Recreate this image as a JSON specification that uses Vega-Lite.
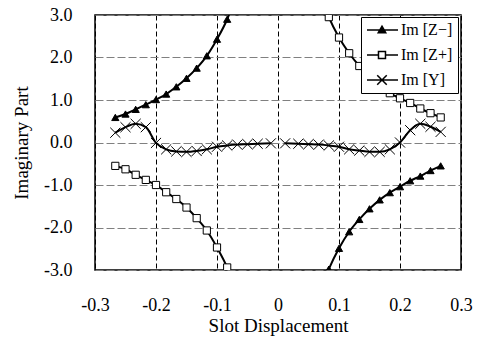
{
  "$schema": "https://vega.github.io/schema/vega-lite/v6.json",
  "width": 366,
  "height": 255,
  "autosize": {"type": "none"},
  "padding": {"left": 95, "top": 15, "right": 16, "bottom": 68},
  "background": "white",
  "config": {
    "font": "Liberation Serif",
    "view": {"stroke": "black", "strokeWidth": 1.5},
    "axis": {
      "labelFont": "Liberation Serif",
      "titleFont": "Liberation Serif",
      "labelFontSize": 18,
      "titleFontSize": 19,
      "titleFontWeight": "normal",
      "labelColor": "black",
      "titleColor": "black",
      "labelFlush": false,
      "labelOverlap": false,
      "domain": false,
      "ticks": false,
      "tickSize": 0,
      "grid": true,
      "gridWidth": 1
    }
  },
  "data": {
    "values": [
      {"series": "Im [Z−]", "branch": "zm_l", "x": -0.2667, "y": 0.59},
      {"series": "Im [Z−]", "branch": "zm_l", "x": -0.25, "y": 0.67},
      {"series": "Im [Z−]", "branch": "zm_l", "x": -0.2333, "y": 0.78},
      {"series": "Im [Z−]", "branch": "zm_l", "x": -0.2167, "y": 0.89},
      {"series": "Im [Z−]", "branch": "zm_l", "x": -0.2, "y": 1.01},
      {"series": "Im [Z−]", "branch": "zm_l", "x": -0.1833, "y": 1.14},
      {"series": "Im [Z−]", "branch": "zm_l", "x": -0.1667, "y": 1.31},
      {"series": "Im [Z−]", "branch": "zm_l", "x": -0.15, "y": 1.51},
      {"series": "Im [Z−]", "branch": "zm_l", "x": -0.1333, "y": 1.75},
      {"series": "Im [Z−]", "branch": "zm_l", "x": -0.1167, "y": 2.04},
      {"series": "Im [Z−]", "branch": "zm_l", "x": -0.1, "y": 2.43},
      {"series": "Im [Z−]", "branch": "zm_l", "x": -0.0833, "y": 2.9},
      {"series": "Im [Z−]", "branch": "zm_l", "x": -0.0667, "y": 3.55},
      {"series": "Im [Z−]", "branch": "zm_r", "x": 0.0667, "y": -3.6},
      {"series": "Im [Z−]", "branch": "zm_r", "x": 0.0833, "y": -2.98},
      {"series": "Im [Z−]", "branch": "zm_r", "x": 0.1, "y": -2.49},
      {"series": "Im [Z−]", "branch": "zm_r", "x": 0.1167, "y": -2.1},
      {"series": "Im [Z−]", "branch": "zm_r", "x": 0.1333, "y": -1.81},
      {"series": "Im [Z−]", "branch": "zm_r", "x": 0.15, "y": -1.56},
      {"series": "Im [Z−]", "branch": "zm_r", "x": 0.1667, "y": -1.35},
      {"series": "Im [Z−]", "branch": "zm_r", "x": 0.1833, "y": -1.18},
      {"series": "Im [Z−]", "branch": "zm_r", "x": 0.2, "y": -1.04},
      {"series": "Im [Z−]", "branch": "zm_r", "x": 0.2167, "y": -0.9},
      {"series": "Im [Z−]", "branch": "zm_r", "x": 0.2333, "y": -0.79},
      {"series": "Im [Z−]", "branch": "zm_r", "x": 0.25, "y": -0.66},
      {"series": "Im [Z−]", "branch": "zm_r", "x": 0.2667, "y": -0.55},
      {"series": "Im [Z+]", "branch": "zp_l", "x": -0.2667, "y": -0.55},
      {"series": "Im [Z+]", "branch": "zp_l", "x": -0.25, "y": -0.63},
      {"series": "Im [Z+]", "branch": "zp_l", "x": -0.2333, "y": -0.76},
      {"series": "Im [Z+]", "branch": "zp_l", "x": -0.2167, "y": -0.88},
      {"series": "Im [Z+]", "branch": "zp_l", "x": -0.2, "y": -1.0},
      {"series": "Im [Z+]", "branch": "zp_l", "x": -0.1833, "y": -1.17},
      {"series": "Im [Z+]", "branch": "zp_l", "x": -0.1667, "y": -1.33},
      {"series": "Im [Z+]", "branch": "zp_l", "x": -0.15, "y": -1.53},
      {"series": "Im [Z+]", "branch": "zp_l", "x": -0.1333, "y": -1.78},
      {"series": "Im [Z+]", "branch": "zp_l", "x": -0.1167, "y": -2.07},
      {"series": "Im [Z+]", "branch": "zp_l", "x": -0.1, "y": -2.47},
      {"series": "Im [Z+]", "branch": "zp_l", "x": -0.0833, "y": -2.94},
      {"series": "Im [Z+]", "branch": "zp_l", "x": -0.0667, "y": -3.6},
      {"series": "Im [Z+]", "branch": "zp_r", "x": 0.0667, "y": 3.6},
      {"series": "Im [Z+]", "branch": "zp_r", "x": 0.0833, "y": 2.95},
      {"series": "Im [Z+]", "branch": "zp_r", "x": 0.1, "y": 2.47},
      {"series": "Im [Z+]", "branch": "zp_r", "x": 0.1167, "y": 2.1},
      {"series": "Im [Z+]", "branch": "zp_r", "x": 0.1333, "y": 1.8},
      {"series": "Im [Z+]", "branch": "zp_r", "x": 0.15, "y": 1.55},
      {"series": "Im [Z+]", "branch": "zp_r", "x": 0.1667, "y": 1.34},
      {"series": "Im [Z+]", "branch": "zp_r", "x": 0.1833, "y": 1.16},
      {"series": "Im [Z+]", "branch": "zp_r", "x": 0.2, "y": 1.04},
      {"series": "Im [Z+]", "branch": "zp_r", "x": 0.2167, "y": 0.93},
      {"series": "Im [Z+]", "branch": "zp_r", "x": 0.2333, "y": 0.8},
      {"series": "Im [Z+]", "branch": "zp_r", "x": 0.25, "y": 0.69},
      {"series": "Im [Z+]", "branch": "zp_r", "x": 0.2667, "y": 0.59},
      {"series": "Im [Y]", "branch": "y_l", "x": -0.2667, "y": 0.23},
      {"series": "Im [Y]", "branch": "y_l", "x": -0.25, "y": 0.36},
      {"series": "Im [Y]", "branch": "y_l", "x": -0.2333, "y": 0.44},
      {"series": "Im [Y]", "branch": "y_l", "x": -0.2167, "y": 0.36},
      {"series": "Im [Y]", "branch": "y_l", "x": -0.2, "y": -0.01},
      {"series": "Im [Y]", "branch": "y_l", "x": -0.1833, "y": -0.16},
      {"series": "Im [Y]", "branch": "y_l", "x": -0.1667, "y": -0.21},
      {"series": "Im [Y]", "branch": "y_l", "x": -0.15, "y": -0.22},
      {"series": "Im [Y]", "branch": "y_l", "x": -0.1333, "y": -0.2},
      {"series": "Im [Y]", "branch": "y_l", "x": -0.1167, "y": -0.16},
      {"series": "Im [Y]", "branch": "y_l", "x": -0.1, "y": -0.1},
      {"series": "Im [Y]", "branch": "y_l", "x": -0.0833, "y": -0.07},
      {"series": "Im [Y]", "branch": "y_l", "x": -0.0667, "y": -0.05},
      {"series": "Im [Y]", "branch": "y_l", "x": -0.05, "y": -0.04},
      {"series": "Im [Y]", "branch": "y_l", "x": -0.0333, "y": -0.03},
      {"series": "Im [Y]", "branch": "y_l", "x": -0.0117, "y": -0.02},
      {"series": "Im [Y]", "branch": "y_r", "x": 0.0117, "y": -0.02},
      {"series": "Im [Y]", "branch": "y_r", "x": 0.0333, "y": -0.03},
      {"series": "Im [Y]", "branch": "y_r", "x": 0.05, "y": -0.04},
      {"series": "Im [Y]", "branch": "y_r", "x": 0.0667, "y": -0.05},
      {"series": "Im [Y]", "branch": "y_r", "x": 0.0833, "y": -0.07},
      {"series": "Im [Y]", "branch": "y_r", "x": 0.1, "y": -0.1},
      {"series": "Im [Y]", "branch": "y_r", "x": 0.1167, "y": -0.16},
      {"series": "Im [Y]", "branch": "y_r", "x": 0.1333, "y": -0.19},
      {"series": "Im [Y]", "branch": "y_r", "x": 0.15, "y": -0.22},
      {"series": "Im [Y]", "branch": "y_r", "x": 0.1667, "y": -0.22},
      {"series": "Im [Y]", "branch": "y_r", "x": 0.1833, "y": -0.16},
      {"series": "Im [Y]", "branch": "y_r", "x": 0.2, "y": 0.0},
      {"series": "Im [Y]", "branch": "y_r", "x": 0.2167, "y": 0.29},
      {"series": "Im [Y]", "branch": "y_r", "x": 0.2333, "y": 0.44},
      {"series": "Im [Y]", "branch": "y_r", "x": 0.25, "y": 0.37},
      {"series": "Im [Y]", "branch": "y_r", "x": 0.2667, "y": 0.25}
    ]
  },
  "encoding": {
    "x": {
      "field": "x",
      "type": "quantitative",
      "scale": {"domain": [-0.3, 0.3], "nice": false, "zero": false},
      "axis": {
        "title": "Slot Displacement",
        "values": [-0.3, -0.2, -0.1, 0, 0.1, 0.2, 0.3],
        "labelExpr": "abs(datum.value) < 1e-9 ? '0' : replace(format(datum.value, '.1f'), '−', '-')",
        "labelPadding": 26,
        "titlePadding": 2,
        "gridColor": "black",
        "gridDash": [5, 3]
      }
    },
    "y": {
      "field": "y",
      "type": "quantitative",
      "scale": {"domain": [-3, 3], "nice": false, "zero": false},
      "axis": {
        "title": "Imaginary Part",
        "values": [-3, -2, -1, 0, 1, 2, 3],
        "labelExpr": "replace(format(datum.value, '.1f'), '−', '-')",
        "labelPadding": 23,
        "titlePadding": 12,
        "gridColor": "#808080",
        "gridDash": [8, 3]
      }
    }
  },
  "layer": [
    {
      "mark": {"type": "line", "interpolate": "monotone", "clip": true, "color": "black", "strokeWidth": 2},
      "encoding": {"detail": {"field": "branch"}}
    },
    {
      "mark": {"type": "point", "filled": true, "clip": true, "opacity": 1, "stroke": "black", "strokeWidth": 1, "size": 52},
      "encoding": {
        "shape": {
          "condition": [
            {"test": "datum.series === 'Im [Z−]'", "value": "triangle-up"},
            {"test": "datum.series === 'Im [Z+]'", "value": "square"}
          ],
          "value": "M-1.4,-1.4L1.4,1.4M-1.4,1.4L1.4,-1.4"
        },
        "fill": {
          "condition": {"test": "datum.series === 'Im [Z−]'", "value": "black"},
          "value": "white"
        }
      }
    },
    {
      "transform": [{"filter": "datum.x > 10"}],
      "mark": {"type": "point", "filled": true, "clip": true, "opacity": 1, "fill": "white", "stroke": "black", "strokeWidth": 1.5},
      "encoding": {
        "shape": {
          "field": "series",
          "type": "nominal",
          "scale": {
            "domain": ["Im [Z−]", "Im [Z+]", "Im [Y]"],
            "range": [
              "M-1,0H3.43M1.14,-0.55L1.68,0.4H0.6ZM1.14,-0.3L1.46,0.27H0.82ZM1.14,-0.08L1.28,0.16H1Z",
              "M-1,0H0.64M0.64,-0.5H1.64V0.5H0.64ZM1.64,0H3.43",
              "M-1,0H3.43M0.46,-0.68L1.82,0.68M0.46,0.68L1.82,-0.68"
            ]
          },
          "legend": {
            "title": null,
            "orient": "none",
            "legendX": 266,
            "legendY": 2,
            "strokeColor": "black",
            "fillColor": "white",
            "padding": 5,
            "symbolSize": 196,
            "labelOffset": 19,
            "labelFontSize": 16,
            "labelFont": "Liberation Serif",
            "labelColor": "black",
            "rowPadding": 9,
            "symbolStrokeWidth": 1.5,
            "symbolOpacity": 1
          }
        }
      }
    }
  ]
}
